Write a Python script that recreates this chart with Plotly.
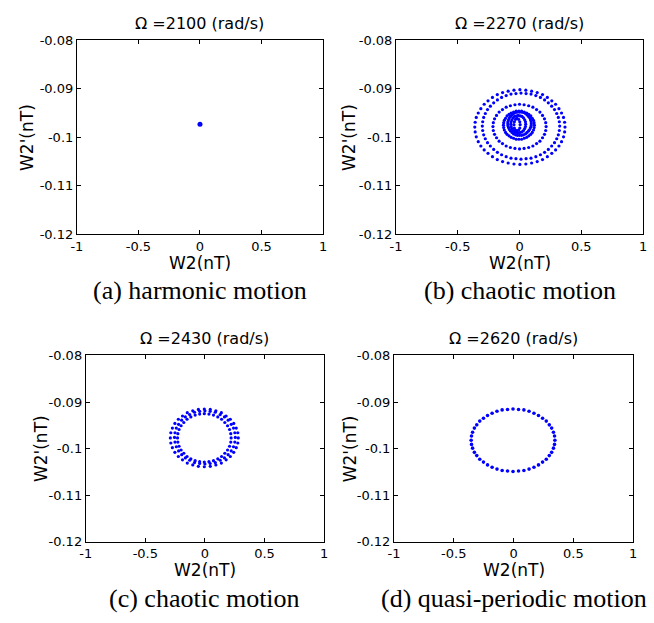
import plotly.graph_objects as go

# ---------------- data: phase-plane points (W2, W2') ----------------
# (a) Omega = 2100 rad/s : fixed point
a_x = [0.0]
a_y = [-0.0973]

# (b) Omega = 2270 rad/s : spiralling trajectory, outer turns then inner turns
b_ring1_x = [0.368, 0.365, 0.356, 0.340, 0.319, 0.292, 0.261, 0.225, 0.186, 0.143, 0.098, 0.051, 0.003,
             -0.045, -0.092, -0.137, -0.180, -0.219, -0.255, -0.286, -0.313, -0.334, -0.350, -0.359, -0.362,
             -0.359, -0.350, -0.334, -0.313, -0.286, -0.255, -0.219, -0.180, -0.137, -0.092, -0.045, 0.003,
             0.051, 0.098, 0.143, 0.186, 0.225, 0.261, 0.292, 0.319, 0.340, 0.356, 0.365]
b_ring1_y = [-0.0979, -0.0969, -0.0959, -0.0950, -0.0941, -0.0932, -0.0925, -0.0918, -0.0912, -0.0908, -0.0905, -0.0903, -0.0902,
             -0.0903, -0.0905, -0.0908, -0.0912, -0.0918, -0.0925, -0.0932, -0.0941, -0.0950, -0.0959, -0.0969, -0.0979,
             -0.0989, -0.0999, -0.1009, -0.1018, -0.1026, -0.1033, -0.1040, -0.1046, -0.1050, -0.1053, -0.1055, -0.1056,
             -0.1055, -0.1053, -0.1050, -0.1046, -0.1040, -0.1033, -0.1026, -0.1018, -0.1009, -0.0999, -0.0989]
b_ring2_x = [0.325, 0.322, 0.314, 0.301, 0.283, 0.260, 0.233, 0.203, 0.169, 0.132, 0.093, 0.053, 0.012,
             -0.029, -0.069, -0.108, -0.145, -0.179, -0.209, -0.236, -0.259, -0.277, -0.290, -0.298, -0.301,
             -0.298, -0.290, -0.277, -0.259, -0.236, -0.209, -0.179, -0.145, -0.108, -0.069, -0.029, 0.012,
             0.053, 0.093, 0.132, 0.169, 0.203, 0.233, 0.260, 0.283, 0.301, 0.314, 0.322]
b_ring2_y = [-0.0977, -0.0968, -0.0959, -0.0951, -0.0943, -0.0936, -0.0929, -0.0923, -0.0918, -0.0914, -0.0911, -0.0910, -0.0909,
             -0.0910, -0.0911, -0.0914, -0.0918, -0.0923, -0.0929, -0.0936, -0.0943, -0.0951, -0.0959, -0.0968, -0.0977,
             -0.0986, -0.0995, -0.1003, -0.1011, -0.1018, -0.1025, -0.1031, -0.1036, -0.1040, -0.1043, -0.1044, -0.1045,
             -0.1044, -0.1043, -0.1040, -0.1036, -0.1031, -0.1025, -0.1018, -0.1011, -0.1003, -0.0995, -0.0986]
b_ring3_x = [0.215, 0.212, 0.202, 0.186, 0.165, 0.138, 0.108, 0.074, 0.037, 0.0,
             -0.037, -0.074, -0.108, -0.138, -0.165, -0.186, -0.202, -0.212, -0.215,
             -0.212, -0.202, -0.186, -0.165, -0.138, -0.108, -0.074, -0.037, 0.0,
             0.037, 0.074, 0.108, 0.138, 0.165, 0.186, 0.202, 0.212]
b_ring3_y = [-0.0978, -0.0970, -0.0962, -0.0955, -0.0948, -0.0943, -0.0938, -0.0935, -0.0933, -0.0932,
             -0.0933, -0.0935, -0.0938, -0.0943, -0.0948, -0.0955, -0.0962, -0.0970, -0.0978,
             -0.0986, -0.0994, -0.1001, -0.1008, -0.1013, -0.1018, -0.1021, -0.1023, -0.1024,
             -0.1023, -0.1021, -0.1018, -0.1013, -0.1008, -0.1001, -0.0994, -0.0986]
b_core1_x = [0.120, 0.118, 0.113, 0.103, 0.091, 0.075, 0.058, 0.038, 0.017, -0.005,
             -0.027, -0.048, -0.068, -0.085, -0.101, -0.113, -0.123, -0.128, -0.130,
             -0.128, -0.123, -0.113, -0.101, -0.085, -0.068, -0.048, -0.027, -0.005,
             0.017, 0.038, 0.058, 0.075, 0.091, 0.103, 0.113, 0.118]
b_core1_y = [-0.0975, -0.0970, -0.0965, -0.0961, -0.0956, -0.0953, -0.0950, -0.0948, -0.0946, -0.0946,
             -0.0946, -0.0948, -0.0950, -0.0953, -0.0956, -0.0961, -0.0965, -0.0970, -0.0975,
             -0.0980, -0.0985, -0.0990, -0.0994, -0.0997, -0.1000, -0.1002, -0.1004, -0.1004,
             -0.1004, -0.1002, -0.1000, -0.0997, -0.0994, -0.0990, -0.0985, -0.0980]
b_core2_x = [0.095, 0.094, 0.089, 0.082, 0.073, 0.061, 0.048, 0.032, 0.017, 0.0,
             -0.017, -0.032, -0.048, -0.061, -0.073, -0.082, -0.089, -0.094, -0.095,
             -0.094, -0.089, -0.082, -0.073, -0.061, -0.048, -0.032, -0.017, 0.0,
             0.017, 0.032, 0.048, 0.061, 0.073, 0.082, 0.089, 0.094]
b_core2_y = [-0.0972, -0.0968, -0.0964, -0.0960, -0.0957, -0.0954, -0.0951, -0.0949, -0.0948, -0.0948,
             -0.0948, -0.0949, -0.0951, -0.0954, -0.0957, -0.0960, -0.0964, -0.0968, -0.0972,
             -0.0976, -0.0980, -0.0984, -0.0987, -0.0990, -0.0993, -0.0995, -0.0996, -0.0996,
             -0.0996, -0.0995, -0.0993, -0.0990, -0.0987, -0.0984, -0.0980, -0.0976]
b_core3_x = [0.050, 0.048, 0.042, 0.032, 0.020, 0.006, -0.010,
             -0.026, -0.040, -0.052, -0.062, -0.068, -0.070,
             -0.068, -0.062, -0.052, -0.040, -0.026, -0.010,
             0.006, 0.020, 0.032, 0.042, 0.048]
b_core3_y = [-0.0973, -0.0968, -0.0964, -0.0960, -0.0957, -0.0956, -0.0955,
             -0.0956, -0.0957, -0.0960, -0.0964, -0.0968, -0.0973,
             -0.0978, -0.0982, -0.0986, -0.0989, -0.0990, -0.0991,
             -0.0990, -0.0989, -0.0986, -0.0982, -0.0978]
b_core4_x = [0.005, 0.002, -0.0075, -0.020, -0.0325, -0.0417, -0.045, -0.0417, -0.0325, -0.020, -0.0075, 0.002]
b_core4_y = [-0.0974, -0.0968, -0.0963, -0.0961, -0.0963, -0.0968, -0.0974, -0.0981, -0.0985, -0.0987, -0.0985, -0.0981]

# (c) Omega = 2430 rad/s : band of neighbouring loops
c_loop1_x = [0.280, 0.276, 0.263, 0.242, 0.213, 0.178, 0.138, 0.092, 0.045, -0.005,
             -0.055, -0.102, -0.148, -0.188, -0.223, -0.252, -0.273, -0.286, -0.290,
             -0.286, -0.273, -0.252, -0.223, -0.188, -0.148, -0.102, -0.055, -0.005,
             0.045, 0.092, 0.138, 0.178, 0.213, 0.242, 0.263, 0.276]
c_loop1_y = [-0.0977, -0.0966, -0.0956, -0.0946, -0.0937, -0.0930, -0.0923, -0.0919, -0.0916, -0.0915,
             -0.0916, -0.0919, -0.0923, -0.0930, -0.0937, -0.0946, -0.0956, -0.0966, -0.0977,
             -0.0988, -0.0998, -0.1008, -0.1017, -0.1024, -0.1031, -0.1035, -0.1038, -0.1039,
             -0.1038, -0.1035, -0.1031, -0.1024, -0.1017, -0.1008, -0.0998, -0.0988]
c_loop2_x = [0.255, 0.251, 0.240, 0.221, 0.195, 0.164, 0.128, 0.087, 0.044, 0.0,
             -0.044, -0.087, -0.128, -0.164, -0.195, -0.221, -0.240, -0.251, -0.255,
             -0.251, -0.240, -0.221, -0.195, -0.164, -0.128, -0.087, -0.044, 0.0,
             0.044, 0.087, 0.128, 0.164, 0.195, 0.221, 0.240, 0.251]
c_loop2_y = [-0.0976, -0.0966, -0.0956, -0.0948, -0.0939, -0.0932, -0.0927, -0.0922, -0.0920, -0.0919,
             -0.0920, -0.0922, -0.0927, -0.0932, -0.0939, -0.0948, -0.0956, -0.0966, -0.0976,
             -0.0986, -0.0996, -0.1005, -0.1013, -0.1020, -0.1025, -0.1030, -0.1032, -0.1033,
             -0.1032, -0.1030, -0.1025, -0.1020, -0.1013, -0.1005, -0.0996, -0.0986]
c_loop3_x = [0.220, 0.217, 0.207, 0.190, 0.167, 0.140, 0.108, 0.072, 0.034, -0.005,
             -0.044, -0.082, -0.118, -0.150, -0.177, -0.200, -0.217, -0.227, -0.230,
             -0.227, -0.217, -0.200, -0.177, -0.150, -0.118, -0.082, -0.044, -0.005,
             0.034, 0.072, 0.108, 0.140, 0.167, 0.190, 0.207, 0.217]
c_loop3_y = [-0.0977, -0.0968, -0.0959, -0.0951, -0.0944, -0.0937, -0.0932, -0.0928, -0.0926, -0.0925,
             -0.0926, -0.0928, -0.0932, -0.0937, -0.0944, -0.0951, -0.0959, -0.0968, -0.0977,
             -0.0986, -0.0995, -0.1003, -0.1010, -0.1017, -0.1022, -0.1026, -0.1028, -0.1029,
             -0.1028, -0.1026, -0.1022, -0.1017, -0.1010, -0.1003, -0.0995, -0.0986]

# (d) Omega = 2620 rad/s : single closed orbit
d_x = [0.345, 0.342, 0.333, 0.318, 0.298, 0.273, 0.242, 0.208, 0.170, 0.129, 0.086, 0.041, -0.005,
       -0.051, -0.096, -0.139, -0.180, -0.218, -0.252, -0.283, -0.308, -0.328, -0.343, -0.352, -0.355,
       -0.352, -0.343, -0.328, -0.308, -0.283, -0.252, -0.218, -0.180, -0.139, -0.096, -0.051, -0.005,
       0.041, 0.086, 0.129, 0.170, 0.208, 0.242, 0.273, 0.298, 0.318, 0.333, 0.342]
d_y = [-0.0982, -0.0973, -0.0965, -0.0956, -0.0949, -0.0941, -0.0935, -0.0929, -0.0924, -0.0920, -0.0917, -0.0916, -0.0915,
       -0.0916, -0.0917, -0.0920, -0.0924, -0.0929, -0.0935, -0.0941, -0.0949, -0.0956, -0.0965, -0.0973, -0.0982,
       -0.0991, -0.0999, -0.1008, -0.1015, -0.1023, -0.1029, -0.1035, -0.1040, -0.1044, -0.1047, -0.1048, -0.1049,
       -0.1048, -0.1047, -0.1044, -0.1040, -0.1035, -0.1029, -0.1023, -0.1015, -0.1008, -0.0999, -0.0991]

omegas = ["2100", "2270", "2430", "2620"]
captions = ["(a) harmonic motion", "(b) chaotic motion", "(c) chaotic motion", "(d) quasi-periodic motion"]

x_ticks = [-1, -0.5, 0, 0.5, 1]
x_tick_text = ["-1", "-0.5", "0", "0.5", "1"]
y_ticks = [-0.12, -0.11, -0.1, -0.09, -0.08]
y_tick_text = ["-0.12", "-0.11", "-0.1", "-0.09", "-0.08"]

# ---------------- figure ----------------
W, H = 654, 623
BLUE = "#0000ff"
SANS = "DejaVu Sans"
SERIF = "Liberation Serif"


def fx(px):
    return px / W


def fy(py):
    return 1 - py / H


# plot boxes in pixels: left, right, top, bottom
boxes = [(72, 322, 34, 233), (396, 647, 34, 233), (81, 323, 357, 548), (394, 637, 357, 548)]
# distance of the vertical axis title from the left edge of each box
ytitle_offsets = [50, 47, 46, 45]

series = [
    [(a_x, a_y, 5)],
    [(b_ring1_x, b_ring1_y, 3.2), (b_ring2_x, b_ring2_y, 3.2), (b_ring3_x, b_ring3_y, 3.2),
     (b_core1_x, b_core1_y, 3.2), (b_core2_x, b_core2_y, 3.2), (b_core3_x, b_core3_y, 3.2),
     (b_core4_x, b_core4_y, 3.2)],
    [(c_loop1_x, c_loop1_y, 3.2), (c_loop2_x, c_loop2_y, 3.2), (c_loop3_x, c_loop3_y, 3.2)],
    [(d_x, d_y, 3.6)],
]

fig = go.Figure()
annotations = []
layout_axes = {}

for i, ((l, r, t, b), group) in enumerate(zip(boxes, series)):
    n = "" if i == 0 else str(i + 1)
    for xs, ys, sz in group:
        fig.add_trace(go.Scatter(x=xs, y=ys, mode="markers",
                                 marker=dict(color=BLUE, size=sz, line=dict(width=0)),
                                 xaxis="x" + n, yaxis="y" + n, showlegend=False,
                                 hoverinfo="skip"))
    axis_common = dict(showline=True, linecolor="black", linewidth=1, mirror="ticks",
                       ticks="inside", ticklen=4, tickcolor="black", tickwidth=1,
                       showgrid=False, zeroline=False,
                       tickfont=dict(family=SANS, size=13, color="black"))
    layout_axes["xaxis" + n] = dict(axis_common, domain=[fx(l), fx(r)], range=[-1, 1],
                                    tickvals=x_ticks, ticktext=x_tick_text,
                                    anchor="y" + n)
    layout_axes["yaxis" + n] = dict(axis_common, domain=[fy(b), fy(t)], range=[-0.12, -0.08],
                                    tickvals=y_ticks, ticktext=y_tick_text,
                                    anchor="x" + n)
    cx = (l + r) / 2
    annotations.append(dict(text=f"Ω ={omegas[i]} (rad/s)",
                            x=fx(cx), y=fy(t - 17), xref="paper", yref="paper",
                            xanchor="center", yanchor="middle", showarrow=False,
                            font=dict(family=SANS, size=16, color="black")))
    annotations.append(dict(text="W2(nT)", x=fx(cx), y=fy(b + 29), xref="paper", yref="paper",
                            xanchor="center", yanchor="middle", showarrow=False,
                            font=dict(family=SANS, size=17, color="black")))
    annotations.append(dict(text="W2'(nT)", x=fx(l - ytitle_offsets[i]), y=fy((t + b) / 2),
                            xref="paper", yref="paper", xanchor="center", yanchor="middle",
                            showarrow=False, textangle=-90,
                            font=dict(family=SANS, size=17, color="black")))
    annotations.append(dict(text=captions[i], x=fx(cx), y=fy(b + 58), xref="paper", yref="paper",
                            xanchor="center", yanchor="middle", showarrow=False,
                            font=dict(family=SERIF, size=26, color="black")))

fig.update_layout(width=W, height=H, margin=dict(l=0, r=0, t=0, b=0),
                  paper_bgcolor="white", plot_bgcolor="white",
                  annotations=annotations, **layout_axes)

fig.write_html("out.html")
